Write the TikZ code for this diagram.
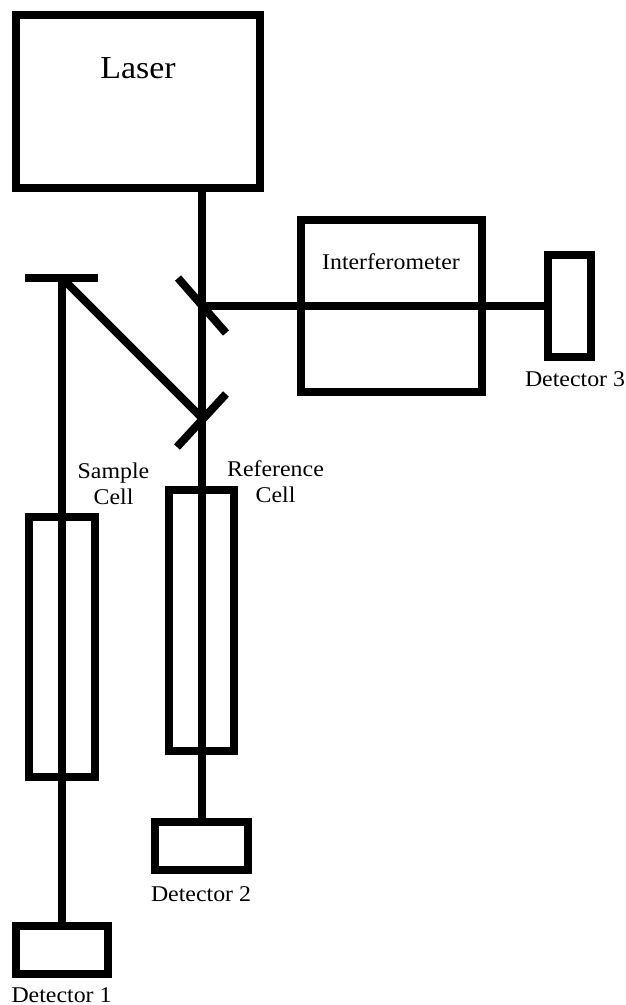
\documentclass[tikz,border=0pt]{standalone}
\usepackage{fontspec}
\setmainfont[FakeStretch=1.06]{Liberation Serif}
\tikzset{
  x=1pt,y=-1pt,
  beam/.style={draw=black,line width=8pt},
  lbl/.style={inner sep=0pt,anchor=base,font=\fontsize{22.5}{26}\selectfont},
}
\begin{document}
\begin{tikzpicture}
\useasboundingbox (0,0) rectangle (626,1005);
\draw[beam] (16,15) rectangle (260,188);
\node[lbl,font=\fontsize{32}{36}\selectfont] (laser) at (138,78) {Laser};
\coordinate (laserout) at (202,188);
\coordinate (bs1) at (202,306);
\coordinate (bs2) at (202,418);
\coordinate (d2top) at (202,822);
\draw[beam] (laserout) -- (bs1) -- (bs2) -- (d2top);
% mirrors
\coordinate (m1a) at (178,278); \coordinate (m1b) at (226,333);
\draw[beam] (m1a) -- (m1b);
\coordinate (m2a) at (226,394); \coordinate (m2b) at (177,447);
\draw[beam] (m2a) -- (m2b);
\coordinate (ma) at (25,278); \coordinate (mb) at (98,278);
\draw[beam] (ma) -- (mb);
\coordinate (mc) at (62,278);
\draw[beam] (mc) -- (bs2);
\coordinate (d1top) at (62,926);
\draw[beam] (mc) -- (d1top);
% interferometer
\draw[beam] (301,220) rectangle (482,392);
\node[lbl] (ifm) at (391,269) {Interferometer};
\coordinate (d3left) at (548,306);
\draw[beam] (bs1) -- (d3left);
\draw[beam] (548,255) rectangle (591,357);
\node[lbl] (d3) at (575,386) {Detector 3};
% cells
\draw[beam] (29,517) rectangle (94.5,777);
\draw[beam] (169,490) rectangle (234,751);
\node[lbl] (sc1) at (113.5,478) {Sample};
\node[lbl] (sc2) at (113.5,504) {Cell};
\node[lbl] (rc1) at (275.5,476) {Reference};
\node[lbl] (rc2) at (275.5,502) {Cell};
% detectors
\draw[beam] (155,822) rectangle (248,870);
\draw[beam] (16,926) rectangle (108,974);
\node[lbl] (d2) at (201,901) {Detector 2};
\node[lbl] (d1) at (61.5,1002) {Detector 1};
\end{tikzpicture}
\end{document}
